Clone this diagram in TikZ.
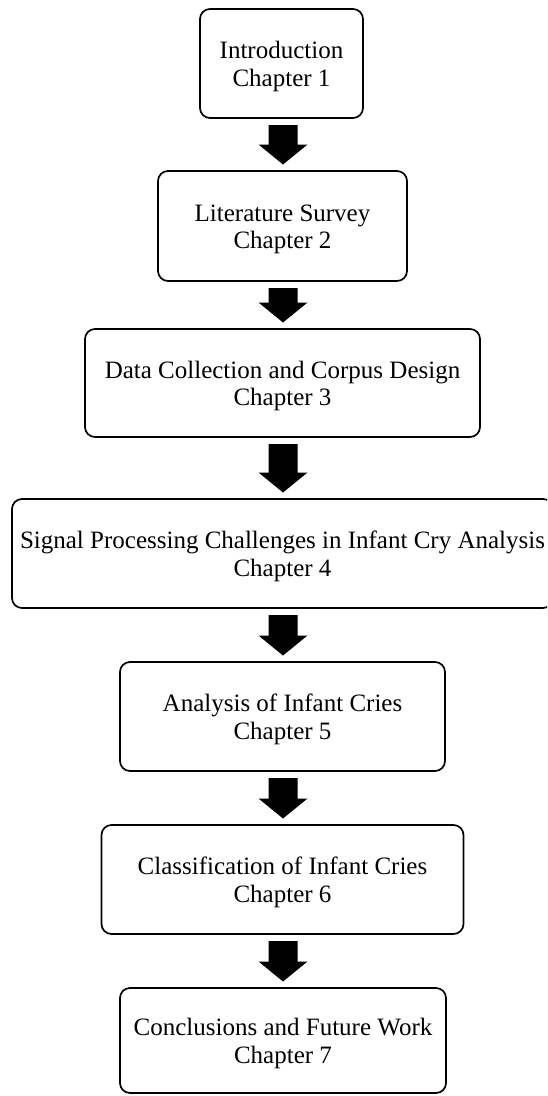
\documentclass[tikz,border=0pt]{standalone}
\usepackage{fontspec}
\setmainfont{Liberation Serif}
\usetikzlibrary{calc}
\newcommand\blockarrow[2]{%
  \fill let \p1=($(#1.south)+(0,-7)$), \p2=($(#2.north)+(0,6.5)$), \p3=(axis) in
    (\x3-14.5pt,\y1) -- (\x3+14.5pt,\y1) -- (\x3+14.5pt,\y2+20pt) -- (\x3+24.5pt,\y2+20pt)
    -- (\x3,\y2) -- (\x3-24.5pt,\y2+20pt) -- (\x3-14.5pt,\y2+20pt) -- cycle;}
\begin{document}
\begin{tikzpicture}[x=1pt,y=1pt,
  chbox/.style={draw, line width=1.7pt, rounded corners=10pt, inner sep=0pt, outer sep=0pt,
    align=center, font=\fontsize{25}{27.5}\selectfont}]
\useasboundingbox (0,0) rectangle (547,-1096);
\clip (0,0) rectangle (547,-1096);
\coordinate (axis) at (283,0);
\node[chbox, minimum width=163pt, minimum height=109pt] (b1) at (281.5,-63.5)
  {\rule{0pt}{23pt}Introduction\\Chapter 1};
\node[chbox, minimum width=249pt, minimum height=110pt] (b2) at (282.5,-226)
  {\rule{0pt}{23pt}Literature Survey\\Chapter 2};
\node[chbox, minimum width=395pt, minimum height=108pt] (b3) at (282.5,-383)
  {\rule{0pt}{23pt}Data Collection and Corpus Design\\Chapter 3};
\node[chbox, minimum width=541pt, minimum height=109pt] (b4) at (282.5,-553.5)
  {\rule{0pt}{23pt}Signal Processing Challenges in Infant Cry Analysis\\Chapter 4};
\node[chbox, minimum width=325pt, minimum height=109pt] (b5) at (282.5,-716.5)
  {\rule{0pt}{23pt}Analysis of Infant Cries\\Chapter 5};
\node[chbox, minimum width=362pt, minimum height=109pt] (b6) at (282.5,-879.5)
  {\rule{0pt}{23pt}Classification of Infant Cries\\Chapter 6};
\node[chbox, minimum width=326pt, minimum height=105pt] (b7) at (283,-1040.5)
  {\rule{0pt}{23pt}Conclusions and Future Work\\Chapter 7};
\blockarrow{b1}{b2}
\blockarrow{b2}{b3}
\blockarrow{b3}{b4}
\blockarrow{b4}{b5}
\blockarrow{b5}{b6}
\blockarrow{b6}{b7}
\end{tikzpicture}
\end{document}
